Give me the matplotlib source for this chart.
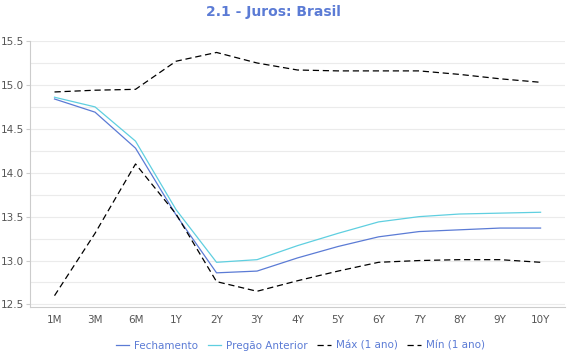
import matplotlib.pyplot as plt
from matplotlib.ticker import MultipleLocator

# vertices da curva
prazos = ["1M", "3M", "6M", "1Y", "2Y", "3Y", "4Y", "5Y", "6Y", "7Y", "8Y", "9Y", "10Y"]
fechamento = [14.84, 14.69, 14.28, 13.52, 12.86, 12.88, 13.03, 13.16, 13.27, 13.33, 13.35, 13.37, 13.37]
pregao_anterior = [14.86, 14.75, 14.36, 13.58, 12.98, 13.01, 13.17, 13.31, 13.44, 13.50, 13.53, 13.54, 13.55]
maximo = [14.92, 14.94, 14.95, 15.27, 15.37, 15.25, 15.17, 15.16, 15.16, 15.16, 15.12, 15.07, 15.03]
minimo = [12.60, 13.31, 14.10, 13.53, 12.76, 12.65, 12.77, 12.88, 12.98, 13.00, 13.01, 13.01, 12.98]

azul = "#5b7bd5"
ciano = "#5fcfe0"

fig = plt.figure(figsize=(5.7, 3.6), dpi=100)
ax = fig.add_axes([0.053, 0.147, 0.938, 0.739])

x = range(len(prazos))
ax.plot(x, fechamento, color=azul, lw=0.9, label="Fechamento")
ax.plot(x, pregao_anterior, color=ciano, lw=0.9, label="Pregão Anterior")
ax.plot(x, maximo, color="black", lw=0.9, ls=(0, (5, 3)), label="Máx (1 ano)")
ax.plot(x, minimo, color="black", lw=0.9, ls=(0, (5, 3)), label="Mín (1 ano)")

ax.set_xlim(-0.6, 12.6)
ax.set_ylim(12.47, 15.5)
ax.set_xticks(list(x))
ax.set_xticklabels(prazos)
ax.yaxis.set_major_locator(MultipleLocator(0.5))
ax.yaxis.set_minor_locator(MultipleLocator(0.25))
ax.yaxis.set_major_formatter(plt.FormatStrFormatter("%.1f"))
ax.grid(axis="y", which="both", color="#ebebeb", lw=0.8)
ax.set_axisbelow(True)

for s in ["top", "right"]:
    ax.spines[s].set_visible(False)
ax.spines["left"].set_color("#cccccc")
ax.spines["bottom"].set_color("#cccccc")
ax.tick_params(axis="x", labelsize=7.5, colors="#555555", length=0, pad=6)
ax.tick_params(axis="y", labelsize=7.5, colors="#555555", length=3, color="#cccccc", pad=1.5)
ax.tick_params(axis="y", which="minor", length=0)

fig.suptitle("2.1 - Juros: Brasil", x=0.48, y=0.985, fontsize=10, fontweight="bold", color=azul)

leg = fig.legend(loc="lower center", bbox_to_anchor=(0.527, 0.0), ncol=4, frameon=False,
                 fontsize=7.5, handlelength=1.3, handletextpad=0.5, columnspacing=0.9)
for t in leg.get_texts():
    t.set_color(azul)

fig.savefig("out.png")
